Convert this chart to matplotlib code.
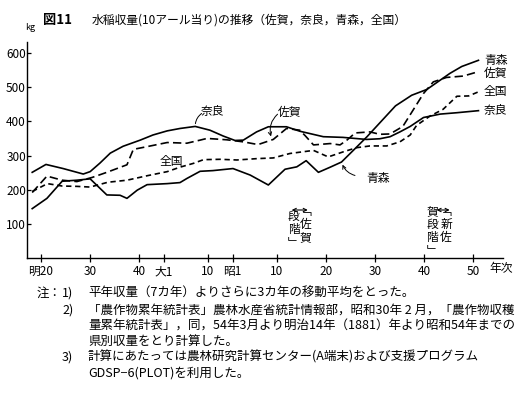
import matplotlib
matplotlib.use("Agg")
import matplotlib.pyplot as plt

plt.rcParams['font.family'] = ['Noto Sans CJK JP', 'DejaVu Sans']

# --- data (years AD, yield kg per 10a) ---
nara_year = [1885.2, 1888.0, 1891.5, 1895.6, 1897.0, 1899.0, 1901.1, 1903.7, 1907.2, 1909.8,
             1912.7, 1915.3, 1918.4, 1921.4, 1924.1, 1926.5, 1928.2, 1930.9, 1933.3, 1937.0,
             1939.7, 1944.5, 1948.5, 1953.3, 1956.0, 1958.1, 1960.1, 1962.2, 1964.9, 1968.3,
             1971.7, 1976.1]
nara_val = [251, 274, 262, 246, 253, 278, 307, 327, 345, 360,
            372, 379, 385, 374, 357, 344, 345, 369, 384, 384,
            371, 355, 353, 347, 349, 355, 369, 385, 411, 421,
            425, 431]

aomori_year = [1885.2, 1888.2, 1891.3, 1894.3, 1897.0, 1900.4, 1903.1, 1904.5, 1906.6, 1908.6,
               1912.7, 1915.3, 1916.7, 1919.4, 1922.0, 1926.1, 1929.6, 1933.3, 1936.7, 1939.1,
               1941.0, 1943.5, 1945.9, 1948.2, 1950.6, 1953.4, 1956.3, 1959.2, 1962.5, 1965.6,
               1970.3, 1972.7, 1976.1]
aomori_val = [145, 175, 225, 228, 232, 185, 184, 175, 199, 215,
              218, 221, 233, 254, 256, 262, 243, 214, 260, 267,
              285, 251, 266, 281, 315, 355, 400, 445, 476, 493,
              540, 560, 578]

saga_year = [1885.2, 1888.2, 1891.3, 1894.3, 1897.4, 1900.4, 1904.5, 1905.8, 1908.6, 1912.7,
             1916.7, 1919.4, 1920.8, 1924.8, 1928.2, 1931.2, 1934.3, 1937.0, 1939.7, 1940.8,
             1942.5, 1945.9, 1947.9, 1949.3, 1951.0, 1954.0, 1956.0, 1958.1, 1960.7, 1962.8,
             1964.9, 1966.9, 1969.6, 1973.0, 1976.1]
saga_val = [192, 240, 228, 224, 236, 251, 273, 318, 326, 338,
            336, 345, 350, 346, 340, 332, 347, 379, 374, 358,
            331, 335, 331, 345, 366, 369, 362, 363, 385, 433,
            481, 515, 528, 532, 545]

zenkoku_year = [1885.2, 1888.3, 1891.3, 1894.3, 1897.0, 1900.6, 1904.5, 1908.6, 1912.7, 1915.3,
                1918.0, 1920.1, 1923.5, 1926.9, 1931.0, 1934.3, 1937.7, 1942.5, 1945.5, 1948.6,
                1951.3, 1954.0, 1957.4, 1960.1, 1962.2, 1963.5, 1966.2, 1968.9, 1971.7, 1974.1,
                1976.1]
zenkoku_val = [195, 218, 211, 210, 208, 222, 228, 241, 253, 266,
               277, 288, 289, 287, 291, 293, 306, 315, 296, 311,
               323, 328, 328, 340, 360, 388, 415, 435, 473, 474,
               486]

xtick_years = [1887, 1897, 1907, 1912, 1921, 1926, 1935, 1945, 1955, 1965, 1975]
xtick_labels = ['明20', '30', '40', '大1', '10', '昭1', '10', '20', '30', '40', '50']
ytick_vals = [100, 200, 300, 400, 500, 600]

W, H = 524, 395
fig = plt.figure(figsize=(W / 100, H / 100), dpi=100)

# axes placement in pixels
ax_l, ax_r, ax_t, ax_b = 27.3, 503, 42.5, 258.3
ax = fig.add_axes([ax_l / W, (H - ax_b) / H, (ax_r - ax_l) / W, (ax_b - ax_t) / H])
ax.set_xlim(1884.2, 1981.1)
ax.set_ylim(0, 630)

lw = 1.2
ax.plot(nara_year, nara_val, color='black', lw=lw)
ax.plot(aomori_year, aomori_val, color='black', lw=lw)
ax.plot(saga_year, saga_val, color='black', lw=lw, dashes=(5, 2.5))
ax.plot(zenkoku_year, zenkoku_val, color='black', lw=lw, dashes=(3.2, 2.2))

for s in ['top', 'right']:
    ax.spines[s].set_visible(False)
for s in ['left', 'bottom']:
    ax.spines[s].set_linewidth(1.0)

ax.set_xticks(xtick_years)
ax.set_xticklabels(xtick_labels)
ax.set_yticks(ytick_vals)
ax.tick_params(axis='x', direction='inout', length=6, width=0.9, labelsize=8.5, pad=2)
ax.tick_params(axis='y', direction='in', length=3, width=0.9, labelsize=8.5, pad=1)

ax.text(1980.8, -30, '年次', ha='center', va='center', fontsize=8.5, clip_on=False)

# line labels at right end
lab = dict(fontsize=8.5, ha='left', va='center')
ax.text(1977.2, 578, '青森', **lab)
ax.text(1977.2, 540, '佐賀', **lab)
ax.text(1977.2, 486, '全国', **lab)
ax.text(1977.2, 431, '奈良', **lab)

# inline labels with leader lines
ax.text(1922.0, 429, '奈良', fontsize=8.5, ha='center', va='center')
ax.annotate('', xy=(1918.4, 385), xytext=(1920.2, 427),
            arrowprops=dict(arrowstyle='-', color='black', lw=0.7,
                            connectionstyle='arc3,rad=0.3'))
ax.text(1937.6, 426, '佐賀', fontsize=8.5, ha='center', va='center')
ax.annotate('', xy=(1934.0, 348), xytext=(1935.6, 426),
            arrowprops=dict(arrowstyle='->', color='black', lw=0.7,
                            connectionstyle='arc3,rad=0.35', mutation_scale=6))
ax.text(1913.6, 284, '全国', fontsize=8.5, ha='center', va='center')
ax.text(1955.6, 232, '青森', fontsize=8.5, ha='center', va='center')
ax.annotate('', xy=(1948.2, 281), xytext=(1951.5, 240),
            arrowprops=dict(arrowstyle='->', color='black', lw=0.7,
                            connectionstyle='arc3,rad=-0.3', mutation_scale=6))

# stage annotations
ax.annotate('', xy=(1937.5, 141), xytext=(1941.9, 141),
            arrowprops=dict(arrowstyle='<->', color='black', lw=0.8, mutation_scale=6))
vt = dict(fontsize=8.5, ha='center', va='center', linespacing=1.0)
ax.text(1940.9, 98, '﹁\n佐\n賀', **vt)
ax.text(1938.5, 83, '段\n階\n﹂', **vt)
ax.annotate('', xy=(1967.0, 141), xytext=(1970.8, 141),
            arrowprops=dict(arrowstyle='<->', color='black', lw=0.8, mutation_scale=6))
ax.text(1969.5, 98, '﹁\n新\n佐', **vt)
ax.text(1966.7, 80, '賀\n段\n階\n﹂', **vt)

# title and unit
fig.text(43 / W, 1 - 20 / H, '図11', fontsize=9.5, fontweight='bold', ha='left', va='center')
fig.text(92 / W, 1 - 20 / H, '水稲収量(10アール当り)の推移（佐賀，奈良，青森，全国）',
         fontsize=8.5, ha='left', va='center')
fig.text(30 / W, 1 - 27 / H, 'kg', fontsize=6.5, ha='center', va='center')

# notes
nf = dict(fontsize=9.0, ha='left', va='center')
fig.text(37 / W, 1 - 293 / H, '注：', **nf)
fig.text(62 / W, 1 - 293 / H, '1)', **nf)
fig.text(88 / W, 1 - 293 / H, '平年収量（7カ年）よりさらに3カ年の移動平均をとった。', **nf)
fig.text(62 / W, 1 - 310.5 / H, '2)', **nf)
fig.text(88 / W, 1 - 310.5 / H, '「農作物累年統計表」農林水産省統計情報部，昭和30年 2 月，「農作物収穫', **nf)
fig.text(88 / W, 1 - 326.5 / H, '量累年統計表」，同，54年3月より明治14年（1881）年より昭和54年までの', **nf)
fig.text(88 / W, 1 - 341.7 / H, '県別収量をとり計算した。', **nf)
fig.text(62 / W, 1 - 357.3 / H, '3)', **nf)
fig.text(88 / W, 1 - 357.3 / H, '計算にあたっては農林研究計算センター(A端末)および支援プログラム', **nf)
fig.text(88 / W, 1 - 373.3 / H, 'GDSP−6(PLOT)を利用した。', **nf)

fig.savefig('out.png', dpi=100)
